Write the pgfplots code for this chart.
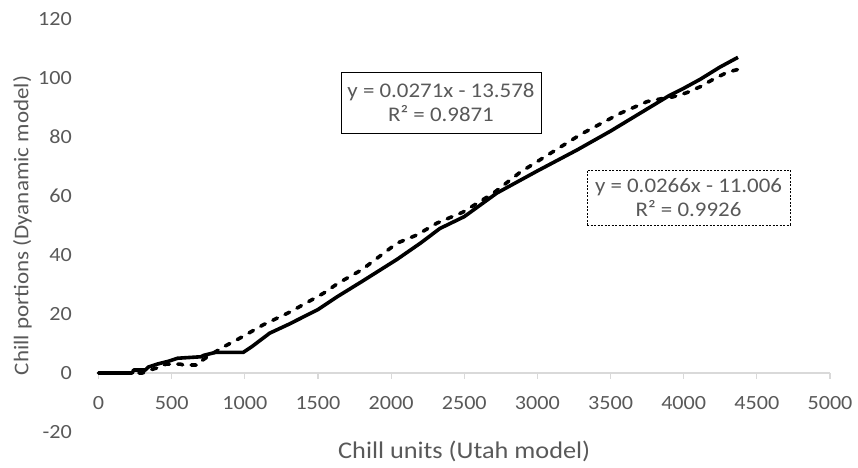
\documentclass[border=0pt]{standalone}
\usepackage{pgfplots}
\pgfplotsset{compat=1.18}
\usepackage{fontspec}
\setmainfont[FakeStretch=1.1]{Carlito}
\definecolor{txt}{HTML}{595959}
\definecolor{axgray}{HTML}{D9D9D9}
\newcommand{\tickfont}{\fontsize{20.2}{24}\selectfont}

\begin{document}
\begin{tikzpicture}[x=1bp,y=1bp]
\path[use as bounding box] (0,0) rectangle (858,468);
\begin{axis}[
    at={(98.5bp,36bp)}, anchor=south west,
    scale only axis,
    width=731.5bp, height=413bp,
    xmin=0, xmax=5000,
    ymin=-20, ymax=120,
    xtick={500,1000,...,5000},
    xticklabels={500,1000,1500,2000,2500,3000,3500,4000,4500,5000},
    extra x ticks={0},
    extra x tick labels={0},
    ytick={-20,0,...,120},
    yticklabels={-20,0,20,40,60,80,100,120},
    axis x line=middle,
    axis y line=left,
    hide obscured x ticks=false,
    hide obscured y ticks=false,
    x axis line style={draw=axgray, line width=1.2bp, -},
    y axis line style={draw=none},
    xtick style={draw=axgray, line width=1.2bp},
    extra x tick style={xtick style={draw=axgray, line width=1.2bp}},
    ytick style={draw=none},
    tick align=outside,
    major tick length=6bp,
    xticklabel style={font=\tickfont, text=txt, anchor=north, inner sep=0pt, yshift=-17bp},
    yticklabel style={font=\tickfont, text=txt, anchor=east, inner sep=0pt, xshift=-20.5bp},
    xlabel={Chill units (Utah model)},
    ylabel={Chill portions (Dyanamic model)},
    x label style={font=\fontsize{24}{28}\selectfont, text=txt,
        at={(axis description cs:0.5,-0.048)}, anchor=center},
    y label style={font=\fontsize{21}{25}\selectfont, text=txt,
        at={(axis description cs:-0.104,0.5)}, anchor=center, rotate=0},
    clip=false,
]

% dashed series
\addplot[black, line width=3.6bp, line cap=round, line join=round, dash pattern=on 5bp off 8.5bp]
coordinates {
(0,0) (300,0) (350,1) (420,2) (460,3) (560,3) (580,2.7) (680,2.7) (700,4)
(760,6) (853,8.8) (966,11.8) (1125,16.3) (1310,20.7) (1537,27) (1640,30.5)
(1800,35) (2040,44) (2177,46.8) (2313,50.8) (2490,54.5) (2700,61) (2881,68)
(3106,75) (3300,81) (3565,88) (3750,92) (3850,93) (3927,93.6) (4020,95)
(4111,97) (4200,99.5) (4300,102) (4380,103)
};

% solid series
\addplot[black, line width=3.6bp, line join=round]
coordinates {
(0,0) (230,0) (240,1) (320,1) (340,2) (400,3) (480,4) (540,5) (700,5.5)
(720,6) (800,7) (990,7) (1050,9) (1170,13.5) (1300,16.5) (1400,19)
(1500,21.5) (1630,25.8) (1800,31) (2040,38.5) (2200,44) (2334,49)
(2500,53) (2723,61) (3000,68.5) (3271,75.6) (3500,82) (3700,88)
(3900,94) (4000,96.5) (4111,99.5) (4248,103.7) (4371,107)
};

% trendline labels
\node[draw=black, line width=0.8bp, fill=white, align=center, inner sep=0pt,
      minimum width=200bp, minimum height=61bp, text=txt,
      font=\fontsize{20.9}{25}\selectfont]
  at (axis cs:2341,91.7) {y = 0.0271x - 13.578\\R² = 0.9871};
\node[draw=black, line width=0.8bp, dash pattern=on 2bp off 1.5bp, fill=white, align=center, inner sep=0pt,
      minimum width=203bp, minimum height=55bp, text=txt,
      font=\fontsize{20.9}{23.5}\selectfont]
  at (axis cs:4033,59.5) {y = 0.0266x - 11.006\\R² = 0.9926};
\end{axis}
\end{tikzpicture}
\end{document}
